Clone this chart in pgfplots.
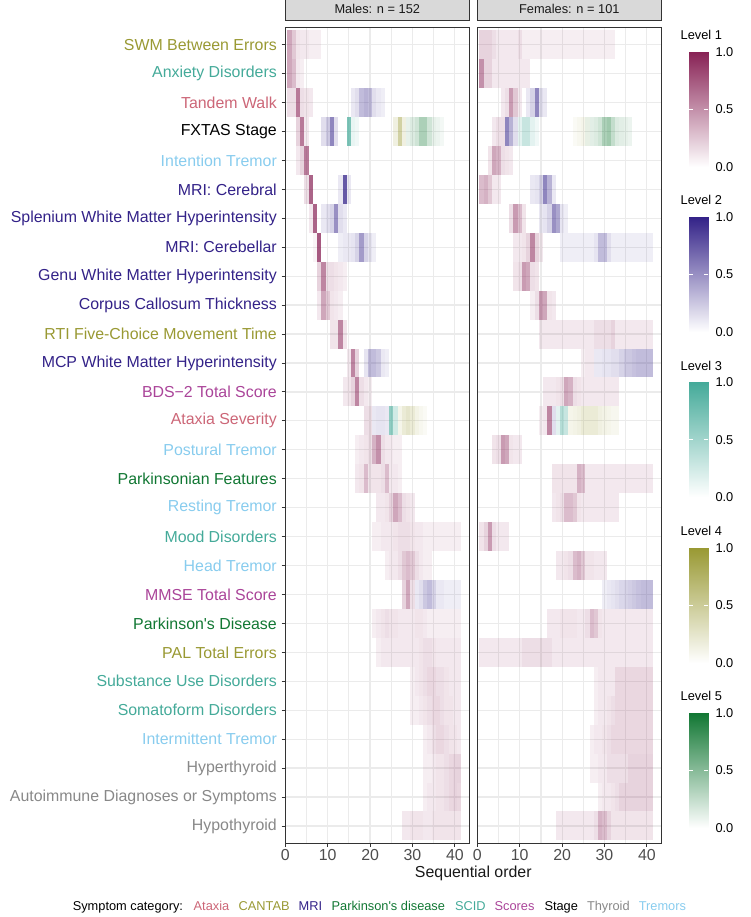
\documentclass[border=0pt]{standalone}
\usepackage{pgfplots}
\pgfplotsset{compat=1.18}
\usepackage{pgfplotstable}
\usepackage{fontspec}
\setmainfont{Liberation Sans}[Ligatures=TeXOff]

\definecolor{lev1}{HTML}{882255}
\definecolor{lev2}{HTML}{332288}
\definecolor{lev3}{HTML}{44AA99}
\definecolor{lev4}{HTML}{999933}
\definecolor{lev5}{HTML}{117733}
\definecolor{cAtaxia}{HTML}{CC6677}
\definecolor{cCANTAB}{HTML}{999933}
\definecolor{cMRI}{HTML}{332288}
\definecolor{cPD}{HTML}{117733}
\definecolor{cSCID}{HTML}{44AA99}
\definecolor{cScores}{HTML}{AA4499}
\definecolor{cThyroid}{HTML}{888888}
\definecolor{cTremors}{HTML}{88CCEE}
\definecolor{grey20}{HTML}{333333}
\definecolor{grey30}{HTML}{4D4D4D}
\definecolor{gridc}{HTML}{EBEBEB}
\definecolor{stripc}{HTML}{D9D9D9}

\pgfdeclareplotmark{tile}{\pgfpathrectangle{\pgfqpoint{-2.1198pt}{-14.468pt}}{\pgfqpoint{4.2396pt}{28.936pt}}\pgfusepathqfill}

\pgfplotsset{
  tiles/.style={scatter, only marks, mark=tile, draw=none, fill=#1,
    mark options={fill=#1, draw=none},
    point meta=explicit symbolic,
    scatter/@pre marker code/.code={\edef\tmpsc{\noexpand\scope[fill opacity=\pgfplotspointmeta]}\tmpsc},
    scatter/@post marker code/.code={\endscope}},
  panel/.style={
    scale only axis, width=184pt, height=816pt,
    xmin=0, xmax=43.4, ymin=0.4, ymax=28.6, y dir=reverse,
    xtick={0,10,20,30,40}, minor xtick={5,15,25,35},
    ytick={1,...,28},
    grid=both,
    major grid style={draw=gridc, line width=1.2pt},
    minor grid style={draw=gridc, line width=1.2pt},
    tick align=outside, major tick length=3.8pt, minor tick length=0pt,
    tick style={draw=grey20, line width=0.9pt},
    xtick pos=bottom, ytick pos=left,
    axis line style={draw=grey20, line width=0.9pt},
    ticklabel style={font=\fontsize{15.9}{19}\selectfont, text=grey30},
    xticklabel style={inner sep=0pt, yshift=-2.5pt},
    yticklabel style={inner sep=0pt, xshift=-4.5pt},
    /pgf/number format/assume math mode=true,
    title style={at={(0.5,1)}, anchor=south, fill=stripc, draw=grey20, line width=0.9pt,
      minimum width=184pt, minimum height=24.6pt, inner sep=0pt,
      font=\fontsize{12.8}{15}\selectfont, text=black!90},
  },
  cbar/.style={
    scale only axis, width=19pt, height=115pt, anchor=north west,
    xmin=0, xmax=1, ymin=0, ymax=1, axis on top,
    axis line style={draw=none}, xtick=\empty,
    ytick={0.5}, yticklabels={0.5},
    extra y ticks={0,1}, extra y tick labels={0.0,1.0},
    extra y tick style={major tick length=0pt},
    ytick pos=both, yticklabel pos=right,
    tick align=inside, major tick length=4pt,
    ytick style={draw=white, line width=0.9pt},
    yticklabel style={font=\fontsize{12.8}{15}\selectfont, text=black, inner sep=0pt, xshift=7pt},
    point meta min=0, point meta max=1,
  },
}

\newcommand{\cbaraxis}[3]{%
\begin{axis}[cbar, at={(689.3pt,-#1pt)}, colormap={#3}{color=(white) color=(#2)}]
\addplot[surf, shader=interp, mesh/rows=2, point meta=y] coordinates {(0,0) (1,0) (0,1) (1,1)};
\end{axis}}

% ---------------- Males ----------------
\pgfplotstableread[row sep=\\]{x y a\\
1 1 0.4\\2 1 0.25\\3 1 0.12\\4 1 0.1\\5 1 0.1\\6 1 0.08\\7 1 0.08\\8 1 0.08\\
1 2 0.4\\2 2 0.3\\3 2 0.1\\4 2 0.08\\
1 3 0.15\\2 3 0.15\\3 3 0.6\\4 3 0.15\\5 3 0.12\\6 3 0.1\\
3 4 0.2\\4 4 0.6\\5 4 0.1\\
3 5 0.1\\4 5 0.2\\5 5 0.6\\
5 6 0.15\\6 6 0.7\\
6 7 0.1\\7 7 0.7\\
7 8 0.05\\8 8 0.75\\
8 9 0.2\\9 9 0.55\\10 9 0.15\\11 9 0.15\\12 9 0.12\\13 9 0.1\\14 9 0.08\\
8 10 0.1\\9 10 0.4\\10 10 0.25\\11 10 0.12\\12 10 0.1\\13 10 0.08\\
11 11 0.12\\12 11 0.12\\13 11 0.55\\14 11 0.12\\
15 12 0.1\\16 12 0.55\\17 12 0.2\\
14 13 0.1\\15 13 0.12\\16 13 0.2\\17 13 0.55\\18 13 0.15\\19 13 0.1\\20 13 0.08\\
19 14 0.15\\20 14 0.15\\
17 15 0.08\\18 15 0.1\\19 15 0.12\\20 15 0.15\\21 15 0.35\\22 15 0.5\\23 15 0.15\\24 15 0.1\\25 15 0.1\\26 15 0.08\\27 15 0.08\\
17 16 0.1\\18 16 0.12\\19 16 0.3\\20 16 0.12\\21 16 0.12\\22 16 0.12\\23 16 0.15\\24 16 0.3\\25 16 0.1\\26 16 0.1\\27 16 0.08\\
22 17 0.1\\23 17 0.1\\24 17 0.12\\25 17 0.2\\26 17 0.4\\27 17 0.3\\28 17 0.15\\29 17 0.12\\30 17 0.1\\
21 18 0.08\\22 18 0.08\\23 18 0.1\\24 18 0.1\\25 18 0.1\\26 18 0.12\\27 18 0.15\\28 18 0.15\\29 18 0.15\\30 18 0.12\\31 18 0.1\\32 18 0.1\\33 18 0.08\\34 18 0.08\\35 18 0.08\\36 18 0.08\\37 18 0.08\\38 18 0.08\\39 18 0.08\\40 18 0.08\\41 18 0.08\\
24 19 0.08\\25 19 0.1\\26 19 0.1\\27 19 0.15\\28 19 0.25\\29 19 0.3\\30 19 0.25\\31 19 0.15\\32 19 0.1\\33 19 0.08\\34 19 0.08\\
28 20 0.2\\29 20 0.4\\30 20 0.15\\
21 21 0.08\\22 21 0.1\\23 21 0.12\\24 21 0.15\\25 21 0.12\\26 21 0.12\\27 21 0.1\\28 21 0.1\\29 21 0.1\\30 21 0.1\\31 21 0.12\\32 21 0.12\\33 21 0.1\\34 21 0.08\\35 21 0.08\\36 21 0.08\\37 21 0.08\\38 21 0.08\\39 21 0.08\\40 21 0.08\\41 21 0.08\\
22 22 0.08\\23 22 0.1\\24 22 0.1\\25 22 0.1\\26 22 0.1\\27 22 0.1\\28 22 0.1\\29 22 0.1\\30 22 0.1\\31 22 0.1\\32 22 0.12\\33 22 0.15\\34 22 0.15\\35 22 0.12\\36 22 0.1\\37 22 0.1\\38 22 0.1\\39 22 0.1\\40 22 0.1\\41 22 0.1\\
30 23 0.08\\31 23 0.1\\32 23 0.12\\33 23 0.15\\34 23 0.18\\35 23 0.18\\36 23 0.15\\37 23 0.15\\38 23 0.12\\39 23 0.1\\40 23 0.1\\41 23 0.1\\
30 24 0.08\\31 24 0.08\\32 24 0.1\\33 24 0.12\\34 24 0.15\\35 24 0.18\\36 24 0.18\\37 24 0.15\\38 24 0.12\\39 24 0.12\\40 24 0.1\\41 24 0.1\\
33 25 0.08\\34 25 0.1\\35 25 0.15\\36 25 0.18\\37 25 0.18\\38 25 0.15\\39 25 0.12\\40 25 0.12\\41 25 0.1\\
33 26 0.08\\34 26 0.08\\35 26 0.1\\36 26 0.12\\37 26 0.12\\38 26 0.15\\39 26 0.18\\40 26 0.2\\41 26 0.2\\
33 27 0.08\\34 27 0.1\\35 27 0.1\\36 27 0.12\\37 27 0.12\\38 27 0.15\\39 27 0.18\\40 27 0.2\\41 27 0.18\\
28 28 0.1\\29 28 0.1\\30 28 0.12\\31 28 0.12\\32 28 0.12\\33 28 0.1\\34 28 0.1\\35 28 0.12\\36 28 0.12\\37 28 0.12\\38 28 0.12\\39 28 0.12\\40 28 0.12\\41 28 0.12\\
}\MaleA

\pgfplotstableread[row sep=\\]{x y a\\
16 3 0.1\\17 3 0.15\\18 3 0.3\\19 3 0.35\\20 3 0.3\\21 3 0.15\\22 3 0.1\\23 3 0.08\\
9 4 0.15\\10 4 0.25\\11 4 0.55\\12 4 0.15\\
13 6 0.1\\14 6 0.75\\15 6 0.1\\
9 7 0.1\\10 7 0.15\\11 7 0.2\\12 7 0.5\\13 7 0.15\\14 7 0.1\\
13 8 0.08\\14 8 0.1\\15 8 0.1\\16 8 0.12\\17 8 0.2\\18 8 0.45\\19 8 0.2\\20 8 0.12\\21 8 0.08\\
19 12 0.12\\20 12 0.3\\21 12 0.3\\22 12 0.25\\23 12 0.1\\24 12 0.08\\
21 14 0.1\\22 14 0.12\\23 14 0.12\\24 14 0.1\\
31 20 0.1\\32 20 0.15\\33 20 0.25\\34 20 0.3\\35 20 0.2\\36 20 0.1\\37 20 0.1\\38 20 0.08\\39 20 0.08\\40 20 0.08\\41 20 0.08\\
}\MaleB

\pgfplotstableread[row sep=\\]{x y a\\
15 4 0.7\\16 4 0.12\\17 4 0.08\\25 14 0.6\\26 14 0.25\\
}\MaleC

\pgfplotstableread[row sep=\\]{x y a\\
26 4 0.15\\27 4 0.45\\28 4 0.15\\
27 14 0.1\\28 14 0.2\\29 14 0.25\\30 14 0.2\\31 14 0.12\\32 14 0.08\\33 14 0.05\\
}\MaleD

\pgfplotstableread[row sep=\\]{x y a\\
29 4 0.1\\30 4 0.15\\31 4 0.2\\32 4 0.35\\33 4 0.35\\34 4 0.2\\35 4 0.1\\36 4 0.08\\37 4 0.05\\
}\MaleE

% ---------------- Females ----------------
\pgfplotstableread[row sep=\\]{x y a\\
1 1 0.2\\2 1 0.2\\3 1 0.2\\4 1 0.15\\5 1 0.1\\6 1 0.1\\7 1 0.1\\8 1 0.1\\9 1 0.1\\10 1 0.15\\11 1 0.08\\12 1 0.08\\13 1 0.08\\14 1 0.08\\15 1 0.08\\16 1 0.08\\17 1 0.08\\18 1 0.08\\19 1 0.08\\20 1 0.08\\21 1 0.08\\22 1 0.08\\23 1 0.08\\24 1 0.08\\25 1 0.08\\26 1 0.08\\27 1 0.08\\28 1 0.08\\29 1 0.08\\30 1 0.08\\31 1 0.08\\32 1 0.08\\
1 2 0.5\\2 2 0.2\\3 2 0.2\\4 2 0.1\\5 2 0.1\\6 2 0.1\\7 2 0.1\\8 2 0.1\\9 2 0.1\\10 2 0.1\\11 2 0.1\\12 2 0.1\\
6 3 0.1\\7 3 0.15\\8 3 0.45\\9 3 0.25\\10 3 0.1\\
4 4 0.1\\5 4 0.15\\6 4 0.15\\
3 5 0.12\\4 5 0.4\\5 5 0.35\\6 5 0.15\\7 5 0.12\\8 5 0.1\\
1 6 0.3\\2 6 0.35\\3 6 0.25\\4 6 0.1\\5 6 0.1\\
8 7 0.15\\9 7 0.45\\10 7 0.3\\11 7 0.12\\
9 8 0.1\\10 8 0.1\\11 8 0.12\\12 8 0.2\\13 8 0.55\\14 8 0.2\\15 8 0.1\\
9 9 0.12\\10 9 0.15\\11 9 0.45\\12 9 0.4\\13 9 0.15\\14 9 0.12\\
13 10 0.08\\14 10 0.15\\15 10 0.45\\16 10 0.4\\17 10 0.12\\18 10 0.1\\
15 11 0.1\\16 11 0.1\\17 11 0.1\\18 11 0.1\\19 11 0.1\\20 11 0.1\\21 11 0.1\\22 11 0.1\\23 11 0.1\\24 11 0.1\\25 11 0.1\\26 11 0.1\\27 11 0.1\\28 11 0.15\\29 11 0.15\\30 11 0.15\\31 11 0.15\\32 11 0.2\\33 11 0.1\\34 11 0.1\\35 11 0.1\\36 11 0.1\\37 11 0.1\\38 11 0.1\\39 11 0.1\\40 11 0.1\\41 11 0.1\\
25 12 0.08\\26 12 0.1\\27 12 0.1\\
16 13 0.1\\17 13 0.1\\18 13 0.1\\19 13 0.12\\20 13 0.15\\21 13 0.4\\22 13 0.35\\23 13 0.15\\24 13 0.12\\25 13 0.1\\26 13 0.1\\27 13 0.1\\28 13 0.1\\29 13 0.1\\30 13 0.1\\31 13 0.1\\32 13 0.1\\33 13 0.1\\
15 14 0.08\\16 14 0.1\\17 14 0.55\\
4 15 0.12\\5 15 0.15\\6 15 0.45\\7 15 0.4\\8 15 0.12\\9 15 0.1\\10 15 0.1\\
18 16 0.12\\19 16 0.12\\20 16 0.12\\21 16 0.12\\22 16 0.12\\23 16 0.12\\24 16 0.35\\25 16 0.3\\26 16 0.1\\27 16 0.1\\28 16 0.1\\29 16 0.1\\30 16 0.1\\31 16 0.1\\32 16 0.1\\33 16 0.1\\34 16 0.1\\35 16 0.1\\36 16 0.1\\37 16 0.1\\38 16 0.1\\39 16 0.1\\40 16 0.1\\41 16 0.1\\
18 17 0.1\\19 17 0.12\\20 17 0.15\\21 17 0.3\\22 17 0.3\\23 17 0.25\\24 17 0.12\\25 17 0.1\\26 17 0.1\\27 17 0.1\\28 17 0.1\\29 17 0.1\\30 17 0.1\\31 17 0.1\\32 17 0.1\\33 17 0.1\\
1 18 0.12\\2 18 0.2\\3 18 0.45\\4 18 0.15\\5 18 0.1\\6 18 0.1\\7 18 0.1\\
19 19 0.1\\20 19 0.1\\21 19 0.12\\22 19 0.15\\23 19 0.3\\24 19 0.35\\25 19 0.25\\26 19 0.12\\27 19 0.12\\28 19 0.1\\29 19 0.1\\30 19 0.1\\
17 21 0.1\\18 21 0.1\\19 21 0.1\\20 21 0.12\\21 21 0.12\\22 21 0.12\\23 21 0.12\\24 21 0.1\\25 21 0.1\\26 21 0.15\\27 21 0.3\\28 21 0.25\\29 21 0.12\\30 21 0.1\\31 21 0.1\\32 21 0.1\\33 21 0.1\\34 21 0.1\\35 21 0.1\\36 21 0.1\\37 21 0.1\\38 21 0.1\\39 21 0.1\\40 21 0.1\\41 21 0.1\\
1 22 0.1\\2 22 0.1\\3 22 0.1\\4 22 0.1\\5 22 0.1\\6 22 0.1\\7 22 0.1\\8 22 0.1\\9 22 0.1\\10 22 0.1\\11 22 0.15\\12 22 0.15\\13 22 0.15\\14 22 0.15\\15 22 0.15\\16 22 0.15\\17 22 0.15\\18 22 0.1\\19 22 0.1\\20 22 0.1\\21 22 0.1\\22 22 0.1\\23 22 0.1\\24 22 0.1\\25 22 0.1\\26 22 0.1\\27 22 0.1\\28 22 0.1\\29 22 0.1\\30 22 0.1\\31 22 0.1\\32 22 0.1\\33 22 0.1\\34 22 0.1\\35 22 0.1\\36 22 0.1\\37 22 0.1\\38 22 0.1\\39 22 0.1\\40 22 0.1\\41 22 0.1\\
28 23 0.08\\29 23 0.1\\30 23 0.1\\31 23 0.1\\32 23 0.1\\33 23 0.18\\34 23 0.18\\35 23 0.18\\36 23 0.18\\37 23 0.18\\38 23 0.18\\39 23 0.18\\40 23 0.18\\41 23 0.18\\
28 24 0.08\\29 24 0.1\\30 24 0.1\\31 24 0.12\\32 24 0.15\\33 24 0.18\\34 24 0.18\\35 24 0.18\\36 24 0.18\\37 24 0.18\\38 24 0.18\\39 24 0.18\\40 24 0.18\\41 24 0.18\\
27 25 0.08\\28 25 0.1\\29 25 0.1\\30 25 0.12\\31 25 0.15\\32 25 0.18\\33 25 0.18\\34 25 0.18\\35 25 0.18\\36 25 0.18\\37 25 0.18\\38 25 0.18\\39 25 0.18\\40 25 0.18\\41 25 0.18\\
27 26 0.08\\28 26 0.08\\29 26 0.1\\30 26 0.1\\31 26 0.15\\32 26 0.15\\33 26 0.15\\34 26 0.15\\35 26 0.15\\36 26 0.2\\37 26 0.2\\38 26 0.2\\39 26 0.2\\40 26 0.2\\41 26 0.2\\
29 27 0.08\\30 27 0.1\\31 27 0.1\\32 27 0.12\\33 27 0.15\\34 27 0.2\\35 27 0.2\\36 27 0.2\\37 27 0.2\\38 27 0.2\\39 27 0.2\\40 27 0.2\\41 27 0.2\\
19 28 0.1\\20 28 0.1\\21 28 0.1\\22 28 0.1\\23 28 0.1\\24 28 0.1\\25 28 0.1\\26 28 0.1\\27 28 0.1\\28 28 0.15\\29 28 0.35\\30 28 0.3\\31 28 0.2\\32 28 0.12\\33 28 0.12\\34 28 0.12\\35 28 0.12\\36 28 0.12\\37 28 0.12\\38 28 0.12\\39 28 0.12\\40 28 0.12\\41 28 0.12\\
}\FemA

\pgfplotstableread[row sep=\\]{x y a\\
12 3 0.1\\13 3 0.2\\14 3 0.55\\15 3 0.15\\16 3 0.1\\
7 4 0.55\\8 4 0.35\\9 4 0.15\\
13 6 0.1\\14 6 0.12\\15 6 0.2\\16 6 0.55\\17 6 0.35\\18 6 0.1\\
15 7 0.1\\16 7 0.12\\17 7 0.2\\18 7 0.5\\19 7 0.4\\20 7 0.12\\21 7 0.08\\
20 8 0.08\\21 8 0.08\\22 8 0.08\\23 8 0.08\\24 8 0.08\\25 8 0.08\\26 8 0.08\\27 8 0.08\\28 8 0.12\\29 8 0.3\\30 8 0.3\\31 8 0.15\\32 8 0.08\\33 8 0.08\\34 8 0.08\\35 8 0.08\\36 8 0.08\\37 8 0.08\\38 8 0.08\\39 8 0.08\\40 8 0.08\\41 8 0.08\\
28 12 0.1\\29 12 0.1\\30 12 0.12\\31 12 0.12\\32 12 0.15\\33 12 0.15\\34 12 0.2\\35 12 0.25\\36 12 0.25\\37 12 0.28\\38 12 0.3\\39 12 0.3\\40 12 0.3\\41 12 0.3\\
18 14 0.15\\
30 20 0.08\\31 20 0.1\\32 20 0.12\\33 20 0.15\\34 20 0.18\\35 20 0.2\\36 20 0.22\\37 20 0.25\\38 20 0.28\\39 20 0.3\\40 20 0.3\\41 20 0.3\\
}\FemB

\pgfplotstableread[row sep=\\]{x y a\\
10 4 0.15\\11 4 0.3\\12 4 0.3\\13 4 0.15\\14 4 0.08\\
19 14 0.15\\20 14 0.4\\21 14 0.3\\
}\FemC

\pgfplotstableread[row sep=\\]{x y a\\
23 4 0.05\\24 4 0.08\\25 4 0.1\\26 4 0.06\\
22 14 0.1\\23 14 0.12\\24 14 0.15\\25 14 0.2\\26 14 0.2\\27 14 0.2\\28 14 0.2\\29 14 0.15\\30 14 0.12\\31 14 0.1\\32 14 0.08\\33 14 0.08\\
}\FemD

\pgfplotstableread[row sep=\\]{x y a\\
26 4 0.08\\27 4 0.12\\28 4 0.15\\29 4 0.2\\30 4 0.35\\31 4 0.4\\32 4 0.25\\33 4 0.15\\34 4 0.12\\35 4 0.1\\36 4 0.08\\
}\FemE

\begin{document}
\begin{tikzpicture}[x=1pt,y=1pt]
\path[use as bounding box] (0,0) rectangle (750,-917);

% ---- Males panel
\begin{axis}[panel, at={(285.3pt,-843.3pt)}, anchor=south west,
  title={Males: n = 152},
  yticklabels={
    \textcolor{cCANTAB}{SWM Between Errors},
    \textcolor{cSCID}{Anxiety Disorders},
    \textcolor{cAtaxia}{Tandem Walk},
    \textcolor{black}{FXTAS Stage},
    \textcolor{cTremors}{Intention Tremor},
    \textcolor{cMRI}{MRI: Cerebral},
    \textcolor{cMRI}{Splenium White Matter Hyperintensity},
    \textcolor{cMRI}{MRI: Cerebellar},
    \textcolor{cMRI}{Genu White Matter Hyperintensity},
    \textcolor{cMRI}{Corpus Callosum Thickness},
    \textcolor{cCANTAB}{RTI Five-Choice Movement Time},
    \textcolor{cMRI}{MCP White Matter Hyperintensity},
    \textcolor{cScores}{BDS−2 Total Score},
    \textcolor{cAtaxia}{Ataxia Severity},
    \textcolor{cTremors}{Postural Tremor},
    \textcolor{cPD}{Parkinsonian Features},
    \textcolor{cTremors}{Resting Tremor},
    \textcolor{cSCID}{Mood Disorders},
    \textcolor{cTremors}{Head Tremor},
    \textcolor{cScores}{MMSE Total Score},
    \textcolor{cPD}{Parkinson's Disease},
    \textcolor{cCANTAB}{PAL Total Errors},
    \textcolor{cSCID}{Substance Use Disorders},
    \textcolor{cSCID}{Somatoform Disorders},
    \textcolor{cTremors}{Intermittent Tremor},
    \textcolor{cThyroid}{Hyperthyroid},
    \textcolor{cThyroid}{Autoimmune Diagnoses or Symptoms},
    \textcolor{cThyroid}{Hypothyroid}},
]
\addplot[tiles=lev1] table[x=x, y=y, meta=a] {\MaleA};
\addplot[tiles=lev2] table[x=x, y=y, meta=a] {\MaleB};
\addplot[tiles=lev3] table[x=x, y=y, meta=a] {\MaleC};
\addplot[tiles=lev4] table[x=x, y=y, meta=a] {\MaleD};
\addplot[tiles=lev5] table[x=x, y=y, meta=a] {\MaleE};
\end{axis}

% ---- Females panel
\begin{axis}[panel, at={(477.3pt,-843.3pt)}, anchor=south west,
  title={Females: n = 101},
  yticklabels={}, ytick style={draw=none},
]
\addplot[tiles=lev1] table[x=x, y=y, meta=a] {\FemA};
\addplot[tiles=lev2] table[x=x, y=y, meta=a] {\FemB};
\addplot[tiles=lev3] table[x=x, y=y, meta=a] {\FemC};
\addplot[tiles=lev4] table[x=x, y=y, meta=a] {\FemD};
\addplot[tiles=lev5] table[x=x, y=y, meta=a] {\FemE};
\end{axis}

\node[font=\fontsize{15.9}{19}\selectfont, text=black!90] at (473.3,-873) {Sequential order};

% ---- colour bars
\foreach \lv/\top in {1/51.7, 2/217.0, 3/382.3, 4/547.6, 5/712.9}{
  \node[anchor=west, inner sep=0pt, font=\fontsize{12.8}{15}\selectfont] at (680.5,-\top+16.6) {Level \lv};
}
\cbaraxis{51.7}{lev1}{mapA}
\cbaraxis{217.0}{lev2}{mapB}
\cbaraxis{382.3}{lev3}{mapC}
\cbaraxis{547.6}{lev4}{mapD}
\cbaraxis{712.9}{lev5}{mapE}

% ---- category legend
\begin{scope}[every node/.style={anchor=base west, inner sep=0pt, font=\fontsize{12.8}{15}\selectfont}]
\node at (72.6,-910) {Symptom category:};
\node[text=cAtaxia] at (193.5,-910) {Ataxia};
\node[text=cCANTAB] at (238.5,-910) {CANTAB};
\node[text=cMRI] at (298.5,-910) {MRI};
\node[text=cPD] at (331.4,-910) {Parkinson's disease};
\node[text=cSCID] at (454.8,-910) {SCID};
\node[text=cScores] at (494.4,-910) {Scores};
\node[text=black] at (544.3,-910) {Stage};
\node[text=cThyroid] at (586.8,-910) {Thyroid};
\node[text=cTremors] at (638.6,-910) {Tremors};
\end{scope}
\end{tikzpicture}
\end{document}
